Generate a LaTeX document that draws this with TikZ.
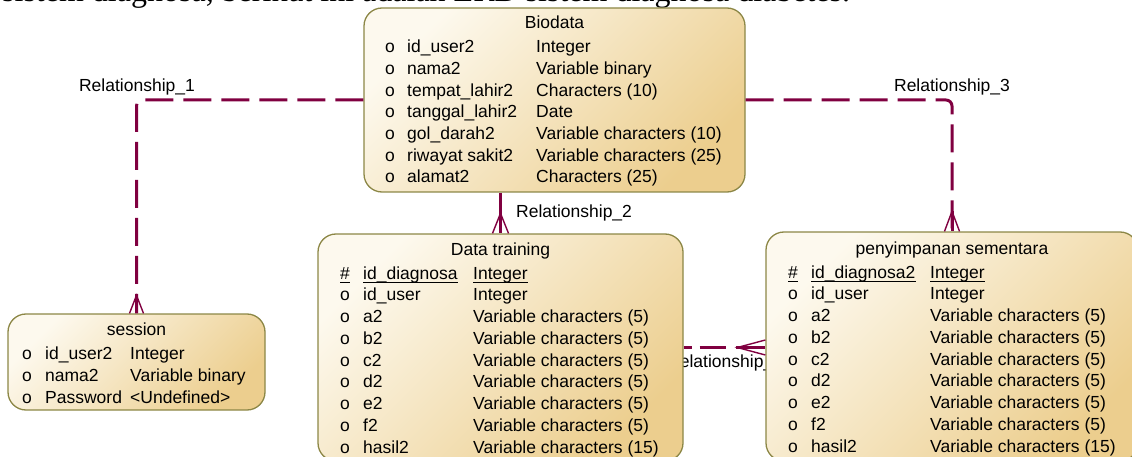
\documentclass[tikz,border=0pt]{standalone}
\usepackage{fontspec}
\setmainfont{Liberation Sans}
\newfontfamily\docserif{Liberation Serif}
\usetikzlibrary{calc}
\definecolor{relred}{RGB}{128,0,64}
\definecolor{entline}{RGB}{140,135,70}
\definecolor{entlight}{RGB}{253,249,238}
\definecolor{entdark}{RGB}{236,206,142}
\newcommand{\erdfont}{\fontsize{17.5}{20}\selectfont}

\begin{document}
\begin{tikzpicture}[x=1pt, y=-1pt,
    ent/.style={draw=entline, line width=1.3pt, rounded corners=18pt,
      top color=entlight, bottom color=entdark, shading angle=45, inner sep=0pt},
    col/.style={anchor=base west, inner sep=0pt, font=\erdfont},
    ttl/.style={anchor=base, inner sep=0pt, font=\erdfont},
    rel/.style={relred, line width=3pt, dash pattern=on 28pt off 10pt},
    relsolid/.style={relred, line width=3pt},
    foot/.style={relred, line width=1.4pt},
    rname/.style={inner sep=0pt, font=\erdfont},
    keyline/.style={line width=0.9pt}]
  \useasboundingbox (0,0) rectangle (1132,457);

  % text line of the page, cut at the top
  \node[anchor=base west, inner sep=0pt, font=\docserif\fontsize{32}{34}\selectfont]
    (caption) at (2,1.5) {sistem diagnosa, berikut ini adalah ERD sistem diagnosa diabetes.};

  % label half hidden behind the tables
  \node[rname, anchor=base west] (r4) at (667,367) {Relationship\_4};

  % Biodata
  \node[ent, minimum width=381, minimum height=184] (bio) at (554.5,100) {};
  \node[ttl] (bio-t) at (554.5,29) {Biodata};
  \foreach \nm/\ty [count=\k] in {id\_user2/Integer, nama2/Variable binary,
      tempat\_lahir2/Characters (10), tanggal\_lahir2/Date,
      gol\_darah2/Variable characters (10), riwayat sakit2/Variable characters (25),
      alamat2/Characters (25)} {
    \node[col] (bio-o\k) at (385,{53+21.65*(\k-1)}) {o};
    \node[col] (bio-n\k) at (407,{53+21.65*(\k-1)}) {\nm};
    \node[col] (bio-y\k) at (536,{53+21.65*(\k-1)}) {\ty};
  }

  % session
  \node[ent, minimum width=257, minimum height=96] (sess) at (136.5,362) {};
  \node[ttl] (sess-t) at (136.5,335) {session};
  \foreach \nm/\ty [count=\k] in {id\_user2/Integer, nama2/Variable binary,
      Password/<Undefined>} {
    \node[col] (sess-o\k) at (22,{359+22*(\k-1)}) {o};
    \node[col] (sess-n\k) at (45,{359+22*(\k-1)}) {\nm};
    \node[col] (sess-y\k) at (130,{359+22*(\k-1)}) {\ty};
  }

  % Data training
  \node[ent, minimum width=365, minimum height=227] (dat) at (500.5,347.5) {};
  \node[ttl] (dat-t) at (500.5,255) {Data training};
  \node[col] (dat-kh) at (340,279) {\#};
  \node[col] (dat-kn) at (363,279) {id\_diagnosa};
  \node[col] (dat-ky) at (473,279) {Integer};
  \foreach \nm/\ty [count=\k] in {id\_user/Integer, a2/Variable characters (5),
      b2/Variable characters (5), c2/Variable characters (5),
      d2/Variable characters (5), e2/Variable characters (5),
      f2/Variable characters (5), hasil2/Variable characters (15)} {
    \node[col] (dat-o\k) at (340,{279+21.75*\k}) {o};
    \node[col] (dat-n\k) at (363,{279+21.75*\k}) {\nm};
    \node[col] (dat-y\k) at (473,{279+21.75*\k}) {\ty};
  }

  % penyimpanan sementara
  \node[ent, minimum width=372, minimum height=229] (pen) at (952,346.5) {};
  \node[ttl] (pen-t) at (952,254) {penyimpanan sementara};
  \node[col] (pen-kh) at (788,278) {\#};
  \node[col] (pen-kn) at (811,278) {id\_diagnosa2};
  \node[col] (pen-ky) at (930,278) {Integer};
  \foreach \nm/\ty [count=\k] in {id\_user/Integer, a2/Variable characters (5),
      b2/Variable characters (5), c2/Variable characters (5),
      d2/Variable characters (5), e2/Variable characters (5),
      f2/Variable characters (5), hasil2/Variable characters (15)} {
    \node[col] (pen-o\k) at (788,{278+21.75*\k}) {o};
    \node[col] (pen-n\k) at (811,{278+21.75*\k}) {\nm};
    \node[col] (pen-y\k) at (930,{278+21.75*\k}) {\ty};
  }

  % key underlines
  \foreach \u in {dat-kh, dat-kn, dat-ky, pen-kh, pen-kn, pen-ky}
    \draw[keyline] ([yshift=-3pt]\u.base west) -- ([yshift=-3pt]\u.base east);

  % relationships
  \draw[rel, rounded corners=6pt] (bio.west) -| (sess.north);
  \draw[relsolid] ($(sess.north)+(0,-18)$) -- (sess.north);
  \draw[foot] ($(sess.north)+(-7,0)$) -- ($(sess.north)+(0,-18)$) -- ($(sess.north)+(7,0)$);
  \node[rname] (r1) at (137,87) {Relationship\_1};

  \draw[rel, rounded corners=6pt] (bio.east) -| (pen.north);
  \draw[relsolid] ($(pen.north)+(0,-20)$) -- (pen.north);
  \draw[foot] ($(pen.north)+(-7.5,0)$) -- ($(pen.north)+(0,-20)$) -- ($(pen.north)+(7.5,0)$);
  \node[rname] (r3) at (952,87) {Relationship\_3};

  \coordinate (r2top) at (dat.north |- bio.south);
  \draw[relsolid] (r2top) -- (dat.north);
  \draw[foot] ($(dat.north)+(-8,0)$) -- ($(dat.north)+(0,-20)$) -- ($(dat.north)+(8,0)$);
  \node[rname, anchor=west] (r2) at (516,213) {Relationship\_2};

  \coordinate (r4end) at (dat.east -| pen.west);
  \draw[rel, dash pattern=on 8pt off 8pt on 26pt off 10pt] (dat.east) -- (r4end);
  \draw[relsolid] ($(r4end)+(-28,0)$) -- (r4end);
  \draw[foot] ($(r4end)+(0,-7.5)$) -- ($(r4end)+(-28,0)$) -- ($(r4end)+(0,7.5)$);
\end{tikzpicture}
\end{document}
